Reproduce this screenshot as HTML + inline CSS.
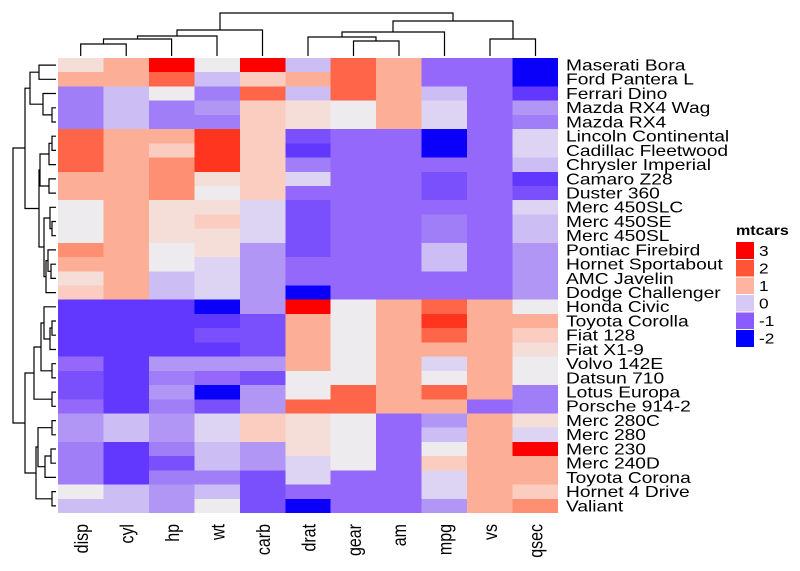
<!DOCTYPE html>
<html><head><meta charset="utf-8"><style>
html,body{margin:0;padding:0;background:#fff}
svg{display:block}
text{font-family:"Liberation Sans",Arial,sans-serif;fill:#000}
</style></head><body>
<svg width="800" height="571" viewBox="0 0 800 571" xmlns="http://www.w3.org/2000/svg">
<defs>
<style>
.R{fill:#FF0000}.r2{fill:#FF3520}.O{fill:#FF6548}.o{fill:#FF8F72}.S{fill:#FDAE96}.P{fill:#FACDC0}.p{fill:#F5DDD8}.W{fill:#EEEBEE}.l{fill:#DDD3F3}.L{fill:#CDBDF5}.M{fill:#B196F6}.m{fill:#A07EF8}.V{fill:#9468FA}.U{fill:#7A50FD}.D{fill:#6238FF}.B{fill:#0A00FA}
</style>
</defs>
<g id="cells" shape-rendering="crispEdges">
<g transform="translate(58,58)"><rect x="0" class="p" width="46" height="14.6"/><rect x="45.45" class="S" width="46" height="14.6"/><rect x="90.9" class="R" width="46" height="14.6"/><rect x="136.35" class="W" width="46" height="14.6"/><rect x="181.8" class="R" width="46" height="14.6"/><rect x="227.25" class="L" width="46" height="14.6"/><rect x="272.7" class="O" width="46" height="14.6"/><rect x="318.15" class="S" width="46" height="14.6"/><rect x="363.6" class="V" width="46" height="14.6"/><rect x="409.05" class="V" width="46" height="14.6"/><rect x="454.5" class="B" width="45.5" height="14.6"/></g>
<g transform="translate(58,72.22)"><rect x="0" class="S" width="46" height="14.6"/><rect x="45.45" class="S" width="46" height="14.6"/><rect x="90.9" class="O" width="46" height="14.6"/><rect x="136.35" class="L" width="46" height="14.6"/><rect x="181.8" class="P" width="46" height="14.6"/><rect x="227.25" class="S" width="46" height="14.6"/><rect x="272.7" class="O" width="46" height="14.6"/><rect x="318.15" class="S" width="46" height="14.6"/><rect x="363.6" class="V" width="46" height="14.6"/><rect x="409.05" class="V" width="46" height="14.6"/><rect x="454.5" class="B" width="45.5" height="14.6"/></g>
<g transform="translate(58,86.44)"><rect x="0" class="m" width="46" height="14.6"/><rect x="45.45" class="L" width="46" height="14.6"/><rect x="90.9" class="W" width="46" height="14.6"/><rect x="136.35" class="m" width="46" height="14.6"/><rect x="181.8" class="O" width="46" height="14.6"/><rect x="227.25" class="L" width="46" height="14.6"/><rect x="272.7" class="O" width="46" height="14.6"/><rect x="318.15" class="S" width="46" height="14.6"/><rect x="363.6" class="L" width="46" height="14.6"/><rect x="409.05" class="V" width="46" height="14.6"/><rect x="454.5" class="D" width="45.5" height="14.6"/></g>
<g transform="translate(58,100.66)"><rect x="0" class="m" width="46" height="14.6"/><rect x="45.45" class="L" width="46" height="14.6"/><rect x="90.9" class="m" width="46" height="14.6"/><rect x="136.35" class="M" width="46" height="14.6"/><rect x="181.8" class="P" width="46" height="14.6"/><rect x="227.25" class="p" width="46" height="14.6"/><rect x="272.7" class="W" width="46" height="14.6"/><rect x="318.15" class="S" width="46" height="14.6"/><rect x="363.6" class="l" width="46" height="14.6"/><rect x="409.05" class="V" width="46" height="14.6"/><rect x="454.5" class="M" width="45.5" height="14.6"/></g>
<g transform="translate(58,114.88)"><rect x="0" class="m" width="46" height="14.6"/><rect x="45.45" class="L" width="46" height="14.6"/><rect x="90.9" class="m" width="46" height="14.6"/><rect x="136.35" class="m" width="46" height="14.6"/><rect x="181.8" class="P" width="46" height="14.6"/><rect x="227.25" class="p" width="46" height="14.6"/><rect x="272.7" class="W" width="46" height="14.6"/><rect x="318.15" class="S" width="46" height="14.6"/><rect x="363.6" class="l" width="46" height="14.6"/><rect x="409.05" class="V" width="46" height="14.6"/><rect x="454.5" class="m" width="45.5" height="14.6"/></g>
<g transform="translate(58,129.1)"><rect x="0" class="O" width="46" height="14.6"/><rect x="45.45" class="S" width="46" height="14.6"/><rect x="90.9" class="S" width="46" height="14.6"/><rect x="136.35" class="r2" width="46" height="14.6"/><rect x="181.8" class="P" width="46" height="14.6"/><rect x="227.25" class="U" width="46" height="14.6"/><rect x="272.7" class="V" width="46" height="14.6"/><rect x="318.15" class="V" width="46" height="14.6"/><rect x="363.6" class="B" width="46" height="14.6"/><rect x="409.05" class="V" width="46" height="14.6"/><rect x="454.5" class="l" width="45.5" height="14.6"/></g>
<g transform="translate(58,143.32)"><rect x="0" class="O" width="46" height="14.6"/><rect x="45.45" class="S" width="46" height="14.6"/><rect x="90.9" class="P" width="46" height="14.6"/><rect x="136.35" class="r2" width="46" height="14.6"/><rect x="181.8" class="P" width="46" height="14.6"/><rect x="227.25" class="D" width="46" height="14.6"/><rect x="272.7" class="V" width="46" height="14.6"/><rect x="318.15" class="V" width="46" height="14.6"/><rect x="363.6" class="B" width="46" height="14.6"/><rect x="409.05" class="V" width="46" height="14.6"/><rect x="454.5" class="l" width="45.5" height="14.6"/></g>
<g transform="translate(58,157.54)"><rect x="0" class="O" width="46" height="14.6"/><rect x="45.45" class="S" width="46" height="14.6"/><rect x="90.9" class="o" width="46" height="14.6"/><rect x="136.35" class="r2" width="46" height="14.6"/><rect x="181.8" class="P" width="46" height="14.6"/><rect x="227.25" class="m" width="46" height="14.6"/><rect x="272.7" class="V" width="46" height="14.6"/><rect x="318.15" class="V" width="46" height="14.6"/><rect x="363.6" class="V" width="46" height="14.6"/><rect x="409.05" class="V" width="46" height="14.6"/><rect x="454.5" class="L" width="45.5" height="14.6"/></g>
<g transform="translate(58,171.76)"><rect x="0" class="S" width="46" height="14.6"/><rect x="45.45" class="S" width="46" height="14.6"/><rect x="90.9" class="o" width="46" height="14.6"/><rect x="136.35" class="p" width="46" height="14.6"/><rect x="181.8" class="P" width="46" height="14.6"/><rect x="227.25" class="l" width="46" height="14.6"/><rect x="272.7" class="V" width="46" height="14.6"/><rect x="318.15" class="V" width="46" height="14.6"/><rect x="363.6" class="U" width="46" height="14.6"/><rect x="409.05" class="V" width="46" height="14.6"/><rect x="454.5" class="D" width="45.5" height="14.6"/></g>
<g transform="translate(58,185.98)"><rect x="0" class="S" width="46" height="14.6"/><rect x="45.45" class="S" width="46" height="14.6"/><rect x="90.9" class="o" width="46" height="14.6"/><rect x="136.35" class="W" width="46" height="14.6"/><rect x="181.8" class="P" width="46" height="14.6"/><rect x="227.25" class="V" width="46" height="14.6"/><rect x="272.7" class="V" width="46" height="14.6"/><rect x="318.15" class="V" width="46" height="14.6"/><rect x="363.6" class="U" width="46" height="14.6"/><rect x="409.05" class="V" width="46" height="14.6"/><rect x="454.5" class="U" width="45.5" height="14.6"/></g>
<g transform="translate(58,200.2)"><rect x="0" class="W" width="46" height="14.6"/><rect x="45.45" class="S" width="46" height="14.6"/><rect x="90.9" class="p" width="46" height="14.6"/><rect x="136.35" class="p" width="46" height="14.6"/><rect x="181.8" class="l" width="46" height="14.6"/><rect x="227.25" class="U" width="46" height="14.6"/><rect x="272.7" class="V" width="46" height="14.6"/><rect x="318.15" class="V" width="46" height="14.6"/><rect x="363.6" class="V" width="46" height="14.6"/><rect x="409.05" class="V" width="46" height="14.6"/><rect x="454.5" class="l" width="45.5" height="14.6"/></g>
<g transform="translate(58,214.42)"><rect x="0" class="W" width="46" height="14.6"/><rect x="45.45" class="S" width="46" height="14.6"/><rect x="90.9" class="p" width="46" height="14.6"/><rect x="136.35" class="P" width="46" height="14.6"/><rect x="181.8" class="l" width="46" height="14.6"/><rect x="227.25" class="U" width="46" height="14.6"/><rect x="272.7" class="V" width="46" height="14.6"/><rect x="318.15" class="V" width="46" height="14.6"/><rect x="363.6" class="m" width="46" height="14.6"/><rect x="409.05" class="V" width="46" height="14.6"/><rect x="454.5" class="L" width="45.5" height="14.6"/></g>
<g transform="translate(58,228.64)"><rect x="0" class="W" width="46" height="14.6"/><rect x="45.45" class="S" width="46" height="14.6"/><rect x="90.9" class="p" width="46" height="14.6"/><rect x="136.35" class="p" width="46" height="14.6"/><rect x="181.8" class="l" width="46" height="14.6"/><rect x="227.25" class="U" width="46" height="14.6"/><rect x="272.7" class="V" width="46" height="14.6"/><rect x="318.15" class="V" width="46" height="14.6"/><rect x="363.6" class="m" width="46" height="14.6"/><rect x="409.05" class="V" width="46" height="14.6"/><rect x="454.5" class="L" width="45.5" height="14.6"/></g>
<g transform="translate(58,242.86)"><rect x="0" class="o" width="46" height="14.6"/><rect x="45.45" class="S" width="46" height="14.6"/><rect x="90.9" class="W" width="46" height="14.6"/><rect x="136.35" class="p" width="46" height="14.6"/><rect x="181.8" class="M" width="46" height="14.6"/><rect x="227.25" class="U" width="46" height="14.6"/><rect x="272.7" class="V" width="46" height="14.6"/><rect x="318.15" class="V" width="46" height="14.6"/><rect x="363.6" class="L" width="46" height="14.6"/><rect x="409.05" class="V" width="46" height="14.6"/><rect x="454.5" class="M" width="45.5" height="14.6"/></g>
<g transform="translate(58,257.08)"><rect x="0" class="S" width="46" height="14.6"/><rect x="45.45" class="S" width="46" height="14.6"/><rect x="90.9" class="W" width="46" height="14.6"/><rect x="136.35" class="l" width="46" height="14.6"/><rect x="181.8" class="M" width="46" height="14.6"/><rect x="227.25" class="V" width="46" height="14.6"/><rect x="272.7" class="V" width="46" height="14.6"/><rect x="318.15" class="V" width="46" height="14.6"/><rect x="363.6" class="L" width="46" height="14.6"/><rect x="409.05" class="V" width="46" height="14.6"/><rect x="454.5" class="M" width="45.5" height="14.6"/></g>
<g transform="translate(58,271.3)"><rect x="0" class="p" width="46" height="14.6"/><rect x="45.45" class="S" width="46" height="14.6"/><rect x="90.9" class="L" width="46" height="14.6"/><rect x="136.35" class="l" width="46" height="14.6"/><rect x="181.8" class="M" width="46" height="14.6"/><rect x="227.25" class="V" width="46" height="14.6"/><rect x="272.7" class="V" width="46" height="14.6"/><rect x="318.15" class="V" width="46" height="14.6"/><rect x="363.6" class="V" width="46" height="14.6"/><rect x="409.05" class="V" width="46" height="14.6"/><rect x="454.5" class="M" width="45.5" height="14.6"/></g>
<g transform="translate(58,285.52)"><rect x="0" class="P" width="46" height="14.6"/><rect x="45.45" class="S" width="46" height="14.6"/><rect x="90.9" class="L" width="46" height="14.6"/><rect x="136.35" class="l" width="46" height="14.6"/><rect x="181.8" class="M" width="46" height="14.6"/><rect x="227.25" class="B" width="46" height="14.6"/><rect x="272.7" class="V" width="46" height="14.6"/><rect x="318.15" class="V" width="46" height="14.6"/><rect x="363.6" class="V" width="46" height="14.6"/><rect x="409.05" class="V" width="46" height="14.6"/><rect x="454.5" class="M" width="45.5" height="14.6"/></g>
<g transform="translate(58,299.74)"><rect x="0" class="D" width="46" height="14.6"/><rect x="45.45" class="D" width="46" height="14.6"/><rect x="90.9" class="D" width="46" height="14.6"/><rect x="136.35" class="B" width="46" height="14.6"/><rect x="181.8" class="M" width="46" height="14.6"/><rect x="227.25" class="R" width="46" height="14.6"/><rect x="272.7" class="W" width="46" height="14.6"/><rect x="318.15" class="S" width="46" height="14.6"/><rect x="363.6" class="O" width="46" height="14.6"/><rect x="409.05" class="S" width="46" height="14.6"/><rect x="454.5" class="W" width="45.5" height="14.6"/></g>
<g transform="translate(58,313.96)"><rect x="0" class="D" width="46" height="14.6"/><rect x="45.45" class="D" width="46" height="14.6"/><rect x="90.9" class="D" width="46" height="14.6"/><rect x="136.35" class="D" width="46" height="14.6"/><rect x="181.8" class="U" width="46" height="14.6"/><rect x="227.25" class="S" width="46" height="14.6"/><rect x="272.7" class="W" width="46" height="14.6"/><rect x="318.15" class="S" width="46" height="14.6"/><rect x="363.6" class="r2" width="46" height="14.6"/><rect x="409.05" class="S" width="46" height="14.6"/><rect x="454.5" class="S" width="45.5" height="14.6"/></g>
<g transform="translate(58,328.18)"><rect x="0" class="D" width="46" height="14.6"/><rect x="45.45" class="D" width="46" height="14.6"/><rect x="90.9" class="D" width="46" height="14.6"/><rect x="136.35" class="U" width="46" height="14.6"/><rect x="181.8" class="U" width="46" height="14.6"/><rect x="227.25" class="S" width="46" height="14.6"/><rect x="272.7" class="W" width="46" height="14.6"/><rect x="318.15" class="S" width="46" height="14.6"/><rect x="363.6" class="O" width="46" height="14.6"/><rect x="409.05" class="S" width="46" height="14.6"/><rect x="454.5" class="P" width="45.5" height="14.6"/></g>
<g transform="translate(58,342.4)"><rect x="0" class="D" width="46" height="14.6"/><rect x="45.45" class="D" width="46" height="14.6"/><rect x="90.9" class="D" width="46" height="14.6"/><rect x="136.35" class="D" width="46" height="14.6"/><rect x="181.8" class="U" width="46" height="14.6"/><rect x="227.25" class="S" width="46" height="14.6"/><rect x="272.7" class="W" width="46" height="14.6"/><rect x="318.15" class="S" width="46" height="14.6"/><rect x="363.6" class="S" width="46" height="14.6"/><rect x="409.05" class="S" width="46" height="14.6"/><rect x="454.5" class="p" width="45.5" height="14.6"/></g>
<g transform="translate(58,356.62)"><rect x="0" class="V" width="46" height="14.6"/><rect x="45.45" class="D" width="46" height="14.6"/><rect x="90.9" class="M" width="46" height="14.6"/><rect x="136.35" class="M" width="46" height="14.6"/><rect x="181.8" class="M" width="46" height="14.6"/><rect x="227.25" class="S" width="46" height="14.6"/><rect x="272.7" class="W" width="46" height="14.6"/><rect x="318.15" class="S" width="46" height="14.6"/><rect x="363.6" class="l" width="46" height="14.6"/><rect x="409.05" class="S" width="46" height="14.6"/><rect x="454.5" class="W" width="45.5" height="14.6"/></g>
<g transform="translate(58,370.84)"><rect x="0" class="U" width="46" height="14.6"/><rect x="45.45" class="D" width="46" height="14.6"/><rect x="90.9" class="m" width="46" height="14.6"/><rect x="136.35" class="V" width="46" height="14.6"/><rect x="181.8" class="U" width="46" height="14.6"/><rect x="227.25" class="W" width="46" height="14.6"/><rect x="272.7" class="W" width="46" height="14.6"/><rect x="318.15" class="S" width="46" height="14.6"/><rect x="363.6" class="W" width="46" height="14.6"/><rect x="409.05" class="S" width="46" height="14.6"/><rect x="454.5" class="W" width="45.5" height="14.6"/></g>
<g transform="translate(58,385.06)"><rect x="0" class="U" width="46" height="14.6"/><rect x="45.45" class="D" width="46" height="14.6"/><rect x="90.9" class="M" width="46" height="14.6"/><rect x="136.35" class="B" width="46" height="14.6"/><rect x="181.8" class="M" width="46" height="14.6"/><rect x="227.25" class="W" width="46" height="14.6"/><rect x="272.7" class="O" width="46" height="14.6"/><rect x="318.15" class="S" width="46" height="14.6"/><rect x="363.6" class="O" width="46" height="14.6"/><rect x="409.05" class="S" width="46" height="14.6"/><rect x="454.5" class="m" width="45.5" height="14.6"/></g>
<g transform="translate(58,399.28)"><rect x="0" class="V" width="46" height="14.6"/><rect x="45.45" class="D" width="46" height="14.6"/><rect x="90.9" class="m" width="46" height="14.6"/><rect x="136.35" class="U" width="46" height="14.6"/><rect x="181.8" class="M" width="46" height="14.6"/><rect x="227.25" class="O" width="46" height="14.6"/><rect x="272.7" class="O" width="46" height="14.6"/><rect x="318.15" class="S" width="46" height="14.6"/><rect x="363.6" class="S" width="46" height="14.6"/><rect x="409.05" class="V" width="46" height="14.6"/><rect x="454.5" class="m" width="45.5" height="14.6"/></g>
<g transform="translate(58,413.5)"><rect x="0" class="M" width="46" height="14.6"/><rect x="45.45" class="L" width="46" height="14.6"/><rect x="90.9" class="M" width="46" height="14.6"/><rect x="136.35" class="l" width="46" height="14.6"/><rect x="181.8" class="P" width="46" height="14.6"/><rect x="227.25" class="p" width="46" height="14.6"/><rect x="272.7" class="W" width="46" height="14.6"/><rect x="318.15" class="V" width="46" height="14.6"/><rect x="363.6" class="M" width="46" height="14.6"/><rect x="409.05" class="S" width="46" height="14.6"/><rect x="454.5" class="p" width="45.5" height="14.6"/></g>
<g transform="translate(58,427.72)"><rect x="0" class="M" width="46" height="14.6"/><rect x="45.45" class="L" width="46" height="14.6"/><rect x="90.9" class="M" width="46" height="14.6"/><rect x="136.35" class="l" width="46" height="14.6"/><rect x="181.8" class="P" width="46" height="14.6"/><rect x="227.25" class="p" width="46" height="14.6"/><rect x="272.7" class="W" width="46" height="14.6"/><rect x="318.15" class="V" width="46" height="14.6"/><rect x="363.6" class="L" width="46" height="14.6"/><rect x="409.05" class="S" width="46" height="14.6"/><rect x="454.5" class="l" width="45.5" height="14.6"/></g>
<g transform="translate(58,441.94)"><rect x="0" class="m" width="46" height="14.6"/><rect x="45.45" class="D" width="46" height="14.6"/><rect x="90.9" class="m" width="46" height="14.6"/><rect x="136.35" class="L" width="46" height="14.6"/><rect x="181.8" class="M" width="46" height="14.6"/><rect x="227.25" class="p" width="46" height="14.6"/><rect x="272.7" class="W" width="46" height="14.6"/><rect x="318.15" class="V" width="46" height="14.6"/><rect x="363.6" class="W" width="46" height="14.6"/><rect x="409.05" class="S" width="46" height="14.6"/><rect x="454.5" class="R" width="45.5" height="14.6"/></g>
<g transform="translate(58,456.16)"><rect x="0" class="m" width="46" height="14.6"/><rect x="45.45" class="D" width="46" height="14.6"/><rect x="90.9" class="U" width="46" height="14.6"/><rect x="136.35" class="L" width="46" height="14.6"/><rect x="181.8" class="M" width="46" height="14.6"/><rect x="227.25" class="l" width="46" height="14.6"/><rect x="272.7" class="W" width="46" height="14.6"/><rect x="318.15" class="V" width="46" height="14.6"/><rect x="363.6" class="P" width="46" height="14.6"/><rect x="409.05" class="S" width="46" height="14.6"/><rect x="454.5" class="S" width="45.5" height="14.6"/></g>
<g transform="translate(58,470.38)"><rect x="0" class="m" width="46" height="14.6"/><rect x="45.45" class="D" width="46" height="14.6"/><rect x="90.9" class="m" width="46" height="14.6"/><rect x="136.35" class="m" width="46" height="14.6"/><rect x="181.8" class="U" width="46" height="14.6"/><rect x="227.25" class="l" width="46" height="14.6"/><rect x="272.7" class="V" width="46" height="14.6"/><rect x="318.15" class="V" width="46" height="14.6"/><rect x="363.6" class="l" width="46" height="14.6"/><rect x="409.05" class="S" width="46" height="14.6"/><rect x="454.5" class="S" width="45.5" height="14.6"/></g>
<g transform="translate(58,484.6)"><rect x="0" class="W" width="46" height="14.6"/><rect x="45.45" class="L" width="46" height="14.6"/><rect x="90.9" class="M" width="46" height="14.6"/><rect x="136.35" class="L" width="46" height="14.6"/><rect x="181.8" class="U" width="46" height="14.6"/><rect x="227.25" class="V" width="46" height="14.6"/><rect x="272.7" class="V" width="46" height="14.6"/><rect x="318.15" class="V" width="46" height="14.6"/><rect x="363.6" class="l" width="46" height="14.6"/><rect x="409.05" class="S" width="46" height="14.6"/><rect x="454.5" class="P" width="45.5" height="14.6"/></g>
<g transform="translate(58,498.82)"><rect x="0" class="L" width="46" height="14.2"/><rect x="45.45" class="L" width="46" height="14.2"/><rect x="90.9" class="M" width="46" height="14.2"/><rect x="136.35" class="W" width="46" height="14.2"/><rect x="181.8" class="U" width="46" height="14.2"/><rect x="227.25" class="B" width="46" height="14.2"/><rect x="272.7" class="V" width="46" height="14.2"/><rect x="318.15" class="V" width="46" height="14.2"/><rect x="363.6" class="M" width="46" height="14.2"/><rect x="409.05" class="S" width="46" height="14.2"/><rect x="454.5" class="o" width="45.5" height="14.2"/></g>
</g>

<!-- top dendrogram -->
<g fill="none" stroke="#000" stroke-width="1.2">
<path d="M80.7 56V44H126.2V56"/>
<path d="M103.5 44V39H171.6V56"/>
<path d="M137.5 39V36H217V56"/>
<path d="M177 36V30H262.5V56"/>
<path d="M353.5 56V41H399V56"/>
<path d="M308 56V37H376V41"/>
<path d="M342 37V32H444.5V56"/>
<path d="M490 56V39H535.5V56"/>
<path d="M393 32V21H513V39"/>
<path d="M220 30V13H453V21"/>
</g>

<!-- left dendrogram -->
<g fill="none" stroke="#000" stroke-width="1.2">
<path d="M56 65.1H39V79.3H56"/>
<path d="M56 107.8H52V122H56"/>
<path d="M56 93.5H43V114.9H52"/>
<path d="M39 72.2H30V104.2H43"/>
<path d="M56 136.2H52V150.4H56"/>
<path d="M52 143.3H49V164.6H56"/>
<path d="M56 178.9H49V193.1H56"/>
<path d="M49 154H40V186H49"/>
<path d="M56 221.5H52V235.7H56"/>
<path d="M56 207.3H50V228.6H52"/>
<path d="M56 264.2H51V278.4H56"/>
<path d="M56 249.9H48V271.3H51"/>
<path d="M48 260.6H46V292.6H56"/>
<path d="M50 218H44V276.6H46"/>
<path d="M40 170H39V247H44"/>
<path d="M30 88.2H25V208.5H39"/>
<path d="M56 321H52V335.2H56"/>
<path d="M52 328H50V349.5H56"/>
<path d="M56 306.8H44V339H50"/>
<path d="M56 363.7H52V377.9H56"/>
<path d="M44 323H41V370.8H52"/>
<path d="M56 392.1H52V406.3H56"/>
<path d="M41 347H34V399.2H52"/>
<path d="M56 420.6H52V434.8H56"/>
<path d="M56 449H51V463.2H56"/>
<path d="M51 456H45V477.4H56"/>
<path d="M52 427.7H38V466.7H45"/>
<path d="M56 491.6H52V505.9H56"/>
<path d="M38 447H36V498.8H52"/>
<path d="M34 373H25V473H36"/>
<path d="M25 148H13V423H25"/>
</g>

<!-- row labels -->
<g font-size="16" transform="translate(566,0) scale(1.2,1)">
<text x="0" y="70.5">Maserati Bora</text>
<text x="0" y="84.7">Ford Pantera L</text>
<text x="0" y="98.9">Ferrari Dino</text>
<text x="0" y="113.2">Mazda RX4 Wag</text>
<text x="0" y="127.4">Mazda RX4</text>
<text x="0" y="141.6">Lincoln Continental</text>
<text x="0" y="155.8">Cadillac Fleetwood</text>
<text x="0" y="170">Chrysler Imperial</text>
<text x="0" y="184.3">Camaro Z28</text>
<text x="0" y="198.5">Duster 360</text>
<text x="0" y="212.7">Merc 450SLC</text>
<text x="0" y="226.9">Merc 450SE</text>
<text x="0" y="241.1">Merc 450SL</text>
<text x="0" y="255.3">Pontiac Firebird</text>
<text x="0" y="269.6">Hornet Sportabout</text>
<text x="0" y="283.8">AMC Javelin</text>
<text x="0" y="298">Dodge Challenger</text>
<text x="0" y="312.2">Honda Civic</text>
<text x="0" y="326.4">Toyota Corolla</text>
<text x="0" y="340.6">Fiat 128</text>
<text x="0" y="354.9">Fiat X1-9</text>
<text x="0" y="369.1">Volvo 142E</text>
<text x="0" y="383.3">Datsun 710</text>
<text x="0" y="397.5">Lotus Europa</text>
<text x="0" y="411.7">Porsche 914-2</text>
<text x="0" y="426">Merc 280C</text>
<text x="0" y="440.2">Merc 280</text>
<text x="0" y="454.4">Merc 230</text>
<text x="0" y="468.6">Merc 240D</text>
<text x="0" y="482.8">Toyota Corona</text>
<text x="0" y="497">Hornet 4 Drive</text>
<text x="0" y="511.3">Valiant</text>
</g>

<!-- column labels -->
<g font-size="16" text-anchor="end">
<text transform="translate(88,524) scale(1.2,1) rotate(-90)">disp</text>
<text transform="translate(133.5,524) scale(1.2,1) rotate(-90)">cyl</text>
<text transform="translate(179,524) scale(1.2,1) rotate(-90)">hp</text>
<text transform="translate(224.4,524) scale(1.2,1) rotate(-90)">wt</text>
<text transform="translate(269.9,524) scale(1.2,1) rotate(-90)">carb</text>
<text transform="translate(315.3,524) scale(1.2,1) rotate(-90)">drat</text>
<text transform="translate(360.8,524) scale(1.2,1) rotate(-90)">gear</text>
<text transform="translate(406.2,524) scale(1.2,1) rotate(-90)">am</text>
<text transform="translate(451.7,524) scale(1.2,1) rotate(-90)">mpg</text>
<text transform="translate(497.1,524) scale(1.2,1) rotate(-90)">vs</text>
<text transform="translate(542.6,524) scale(1.2,1) rotate(-90)">qsec</text>
</g>

<!-- legend -->
<text transform="translate(736,235) scale(1.15,1)" font-size="14" font-weight="bold">mtcars</text>
<g shape-rendering="crispEdges">
<rect x="736" y="242" width="18" height="17.5" fill="#FF0000"/>
<rect x="736" y="259.5" width="18" height="17.5" fill="#FF5536"/>
<rect x="736" y="277" width="18" height="17.5" fill="#FFB4A2"/>
<rect x="736" y="294.5" width="18" height="17.5" fill="#D6C9F5"/>
<rect x="736" y="312" width="18" height="17.5" fill="#8A5CFF"/>
<rect x="736" y="329.5" width="18" height="17.5" fill="#0000FF"/>
</g>
<g stroke="#fff" stroke-width="1">
<line x1="736" y1="259.5" x2="754" y2="259.5"/><line x1="736" y1="277" x2="754" y2="277"/><line x1="736" y1="294.5" x2="754" y2="294.5"/><line x1="736" y1="312" x2="754" y2="312"/><line x1="736" y1="329.5" x2="754" y2="329.5"/>
</g>
<g font-size="15" transform="translate(759,0) scale(1.15,1)">
<text x="0" y="256">3</text>
<text x="0" y="273.5">2</text>
<text x="0" y="291">1</text>
<text x="0" y="308.5">0</text>
<text x="0" y="326">-1</text>
<text x="0" y="343.5">-2</text>
</g>
</svg>
</body></html>
